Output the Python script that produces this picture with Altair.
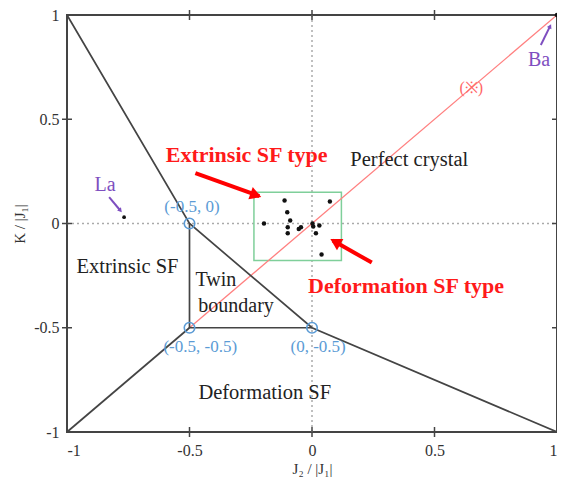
import altair as alt
import pandas as pd

FONT = "Liberation Serif"
TICKS = [-1, -0.5, 0, 0.5, 1]
INNER_TICKS = [-0.5, 0, 0.5]

# phase boundaries (black)
line_seg = ["A", "A", "A", "A", "B", "B", "C", "C", "C"]
line_ord = [0, 1, 2, 3, 0, 1, 0, 1, 2]
line_x = [-1, -0.5, 0, 1, -1, -0.5, -0.5, -0.5, 0]
line_y = [1, 0, -0.5, -1, -1, -0.5, 0, -0.5, -0.5]

# red line (※)
red_x = [-0.5, 1]
red_y = [-0.5, 1]

# dotted zero lines
zero_seg = ["v", "v", "h", "h"]
zero_x = [0, 0, -1, 1]
zero_y = [-1, 1, 0, 0]

# green box
box_x, box_x2 = [-0.237], [0.12]
box_y, box_y2 = [-0.178], [0.15]

# data points
sf_x = [-0.112, 0.073, -0.101, -0.089, -0.196, -0.099, -0.099, -0.054, -0.045, 0.002, 0.005, 0.03, 0.016, 0.039, 1.0]
sf_y = [0.11, 0.106, 0.054, 0.014, 0.0, -0.018, -0.047, -0.026, -0.018, 0.0, -0.014, -0.01, -0.047, -0.149, 1.0]
la_x, la_y = [-0.767], [0.03]

# corner circles
corner_x = [-0.5, -0.5, 0]
corner_y = [0, -0.5, -0.5]
corner_lbl = ["(-0.5, 0)", "(-0.5, -0.5)", "(0, -0.5)"]
corner_lx = [-0.49, -0.456, 0.025]
corner_ly = [0.078, -0.592, -0.592]

# black region labels
reg_lbl = ["Perfect crystal", "Extrinsic SF", "Deformation SF"]
reg_x = [0.397, -0.753, -0.193]
reg_y = [0.303, -0.21, -0.811]
twin_lbl = ["Twin", "boundary"]
twin_x = [-0.476, -0.464]
twin_y = [-0.27, -0.394]

# red bold labels
type_lbl = ["Extrinsic SF type", "Deformation SF type"]
type_x = [-0.267, 0.384]
type_y = [0.327, -0.298]

# red arrows
arr_id = ["a1", "a1", "a2", "a2"]
arr_x = [-0.476, -0.215, 0.244, 0.085]
arr_y = [0.242, 0.131, -0.1875, -0.082]
head_x = [-0.229, 0.095]
head_y = [0.136, -0.088]
head_shape = ["triangle-right", "triangle-left"]
head_angle = [19.8, 29.4]

# purple labels and arrows
el_lbl = ["La", "Ba"]
el_x = [-0.845, 0.927]
el_y = [0.183, 0.784]
parr_id = ["la", "la", "ba", "ba"]
parr_x = [-0.828, -0.785, 0.934, 0.970]
parr_y = [0.126, 0.066, 0.856, 0.942]
phead_x = [-0.782, 0.972]
phead_y = [0.062, 0.946]
phead_angle = [50, 296.6]

star_lbl, star_x, star_y = ["(※)"], [0.65], [0.65]

label_expr = "datum.value < 0 ? '-' + format(-datum.value, '') : format(datum.value, '')"
xaxis = alt.Axis(values=TICKS, title="J₂ / |J₁|", ticks=False, tickSize=0, domain=False, grid=False,
                 labelExpr=label_expr, labelFont=FONT, labelFontSize=16, labelColor="#333",
                 labelPadding=10, titleFont=FONT, titleFontSize=15, titleFontWeight="normal",
                 titleColor="#333", titlePadding=3)
yaxis = alt.Axis(values=TICKS, title="K / |J₁|", ticks=False, tickSize=0, domain=False, grid=False,
                 labelExpr=label_expr, labelFont=FONT, labelFontSize=16, labelColor="#333",
                 labelPadding=8, titleFont=FONT, titleFontSize=15, titleFontWeight="normal",
                 titleColor="#333", titlePadding=6)
sc = alt.Scale(domain=[-1, 1], nice=False, zero=False)


def X(f):
    return alt.X(f, type="quantitative", scale=sc, axis=xaxis)


def Y(f):
    return alt.Y(f, type="quantitative", scale=sc, axis=yaxis)


zero_df = pd.DataFrame({"seg": zero_seg, "x": zero_x, "y": zero_y})
zero_layer = alt.Chart(zero_df).mark_line(color="#aaaaaa", strokeWidth=1.5, strokeDash=[2, 3]).encode(
    x=X("x"), y=Y("y"), detail="seg:N")

box_df = pd.DataFrame({"x": box_x, "x2": box_x2, "y": box_y, "y2": box_y2})
box_layer = alt.Chart(box_df).mark_rect(filled=False, stroke="#7fcf9a", strokeWidth=1.5).encode(
    x=X("x"), x2="x2", y=Y("y"), y2="y2")

red_df = pd.DataFrame({"x": red_x, "y": red_y})
red_layer = alt.Chart(red_df).mark_line(color="#ff7f7f", strokeWidth=1.3).encode(x=X("x"), y=Y("y"))

line_df = pd.DataFrame({"seg": line_seg, "o": line_ord, "x": line_x, "y": line_y})
line_layer = alt.Chart(line_df).mark_line(color="#444444", strokeWidth=1.7).encode(
    x=X("x"), y=Y("y"), detail="seg:N", order="o:Q")

corner_df = pd.DataFrame({"x": corner_x, "y": corner_y})
corner_layer = alt.Chart(corner_df).mark_point(shape="circle", filled=False, size=110, color="#5b9bd5",
                                               strokeWidth=1.6, opacity=1).encode(x=X("x"), y=Y("y"))
clbl_df = pd.DataFrame({"t": corner_lbl, "x": corner_lx, "y": corner_ly})
clbl_layer = alt.Chart(clbl_df).mark_text(font=FONT, fontSize=17, color="#5b9bd5", baseline="middle").encode(
    x=X("x"), y=Y("y"), text="t:N")

sf_df = pd.DataFrame({"x": sf_x, "y": sf_y})
sf_layer = alt.Chart(sf_df).mark_circle(size=20, color="#111111", opacity=1).encode(x=X("x"), y=Y("y"))
la_df = pd.DataFrame({"x": la_x, "y": la_y})
la_layer = alt.Chart(la_df).mark_circle(size=14, color="#111111", opacity=1).encode(x=X("x"), y=Y("y"))

reg_df = pd.DataFrame({"t": reg_lbl, "x": reg_x, "y": reg_y})
reg_layer = alt.Chart(reg_df).mark_text(font=FONT, fontSize=20.5, color="#222222", baseline="middle").encode(
    x=X("x"), y=Y("y"), text="t:N")
twin_df = pd.DataFrame({"t": twin_lbl, "x": twin_x, "y": twin_y})
twin_layer = alt.Chart(twin_df).mark_text(font=FONT, fontSize=20, color="#222222", baseline="middle",
                                          align="left").encode(x=X("x"), y=Y("y"), text="t:N")

type_df = pd.DataFrame({"t": type_lbl, "x": type_x, "y": type_y})
type_layer = alt.Chart(type_df).mark_text(font=FONT, fontSize=22, fontWeight="bold", color="#ff1a1a",
                                          baseline="middle").encode(x=X("x"), y=Y("y"), text="t:N")

arr_df = pd.DataFrame({"id": arr_id, "x": arr_x, "y": arr_y})
arr_layer = alt.Chart(arr_df).mark_line(color="#ff0000", strokeWidth=4).encode(
    x=X("x"), y=Y("y"), detail="id:N")
head_df = pd.DataFrame({"x": head_x, "y": head_y, "s": head_shape, "a": head_angle})
head_layer = alt.Chart(head_df).mark_point(filled=True, size=170, color="#ff0000", opacity=1).encode(
    x=X("x"), y=Y("y"), shape=alt.Shape("s:N", scale=None), angle=alt.Angle("a:Q", scale=None))

el_df = pd.DataFrame({"t": el_lbl, "x": el_x, "y": el_y})
el_layer = alt.Chart(el_df).mark_text(font=FONT, fontSize=20, color="#7e4fc0", baseline="middle").encode(
    x=X("x"), y=Y("y"), text="t:N")
parr_df = pd.DataFrame({"id": parr_id, "x": parr_x, "y": parr_y})
parr_layer = alt.Chart(parr_df).mark_line(color="#7e4fc0", strokeWidth=2).encode(
    x=X("x"), y=Y("y"), detail="id:N")
phead_df = pd.DataFrame({"x": phead_x, "y": phead_y, "a": phead_angle})
phead_layer = alt.Chart(phead_df).mark_point(shape="triangle-right", filled=True, size=25, color="#7e4fc0",
                                             opacity=1).encode(x=X("x"), y=Y("y"),
                                                               angle=alt.Angle("a:Q", scale=None))

star_df = pd.DataFrame({"t": star_lbl, "x": star_x, "y": star_y})
star_layer = alt.Chart(star_df).mark_text(font=FONT, fontSize=16, color="#ff6666", baseline="middle").encode(
    x=X("x"), y=Y("y"), text="t:N")

# frame ticks (crossing the frame, gnuplot style)
tb_df = pd.DataFrame({"x": INNER_TICKS * 2, "y": [-1] * 3 + [1] * 3})
tb_layer = alt.Chart(tb_df).mark_tick(orient="vertical", size=10, thickness=1.5, color="#444444",
                                      opacity=1).encode(x=X("x"), y=Y("y"))
lr_df = pd.DataFrame({"y": INNER_TICKS * 2, "x": [-1] * 3 + [1] * 3})
lr_layer = alt.Chart(lr_df).mark_tick(orient="horizontal", size=10, thickness=1.5, color="#444444",
                                      opacity=1).encode(x=X("x"), y=Y("y"))

chart = alt.layer(
    zero_layer, box_layer, red_layer, line_layer, tb_layer, lr_layer,
    corner_layer, clbl_layer, sf_layer, la_layer, reg_layer, twin_layer,
    arr_layer, head_layer, type_layer, parr_layer, phead_layer, el_layer, star_layer,
).properties(
    width=490, height=417,
    autosize=alt.AutoSizeParams(type="none"),
    padding={"left": 59, "top": 7, "right": 0, "bottom": 45},
).configure_view(stroke="#444444", strokeWidth=2)

chart.save("out.html", embed_options={"renderer": "svg", "actions": False})
